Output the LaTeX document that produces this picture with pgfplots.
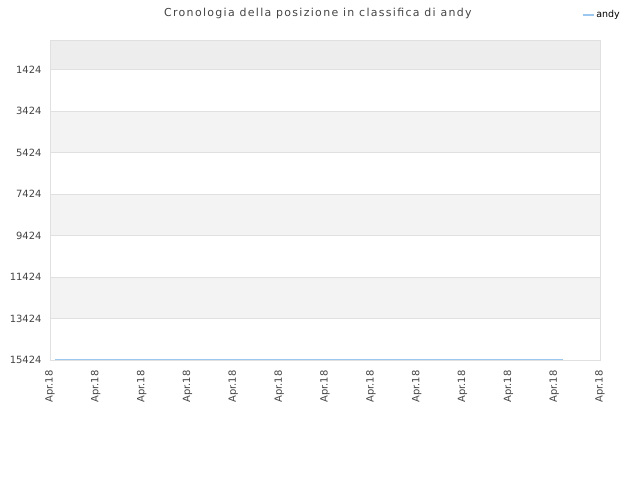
\documentclass[border=0pt]{standalone}
\usepackage{pgfplots}
\pgfplotsset{compat=1.18}
\usepackage{fontspec}
\setmainfont{DejaVu Sans}
\newfontfamily\titlefont[LetterSpace=12]{DejaVu Sans}
\definecolor{band}{HTML}{F3F3F3}
\definecolor{bandtop}{HTML}{EDEDED}
\definecolor{gridc}{HTML}{E0E0E0}
\definecolor{linec}{HTML}{9CC8F0}
\definecolor{txt}{HTML}{444444}
\begin{document}
\begin{tikzpicture}[x=1bp,y=1bp]
\path (0,0) rectangle (640,480);
\begin{axis}[
  at={(50bp,120bp)}, anchor=south west,
  scale only axis, width=550bp, height=320bp,
  xmin=0, xmax=12, ymin=0, ymax=15424, y dir=reverse,
  xtick={0,...,12},
  xticklabels={Apr.18,Apr.18,Apr.18,Apr.18,Apr.18,Apr.18,Apr.18,Apr.18,Apr.18,Apr.18,Apr.18,Apr.18,Apr.18},
  xticklabel style={rotate=90, anchor=east, font=\fontsize{10}{12}\selectfont, text=txt},
  xticklabel shift={7bp},
  ytick={1424,3424,5424,7424,9424,11424,13424,15424},
  yticklabel style={font=\fontsize{10}{12}\selectfont, text=txt},
  yticklabel shift={5bp},
  /pgf/number format/assume math mode=true,
  /pgf/number format/1000 sep={},
  scaled y ticks=false,
  tick style={draw=none},
  ymajorgrids, grid style={gridc, line width=0.8pt},
  axis line style={gridc, line width=0.8pt},
  axis on top,
  title={\titlefont Cronologia della posizione in classifica di andy},
  title style={font=\fontsize{11}{13}\selectfont, text=txt, at={(0.487,1)}, yshift=12bp},
  legend style={at={(1.04,1.078)}, anchor=east, draw=none, fill=none, inner sep=0pt,
    font=\fontsize{9.5}{11}\selectfont, legend cell align=left},
  legend image code/.code={\draw[#1, line width=1.4pt] (0bp,0bp) -- (11bp,0bp);},
]
\fill[bandtop] (axis cs:0,0) rectangle (axis cs:12,1424);
\fill[band] (axis cs:0,3424) rectangle (axis cs:12,5424);
\fill[band] (axis cs:0,7424) rectangle (axis cs:12,9424);
\fill[band] (axis cs:0,11424) rectangle (axis cs:12,13424);
\addplot[linec, line width=1.2pt, no marks] coordinates {
  (0.11,15390) (1,15390) (2,15390) (3,15390) (4,15390) (5,15390)
  (6,15390) (7,15390) (8,15390) (9,15390) (10,15390) (11.2,15390)};
\addlegendentry{andy}
\end{axis}
\end{tikzpicture}
\end{document}
